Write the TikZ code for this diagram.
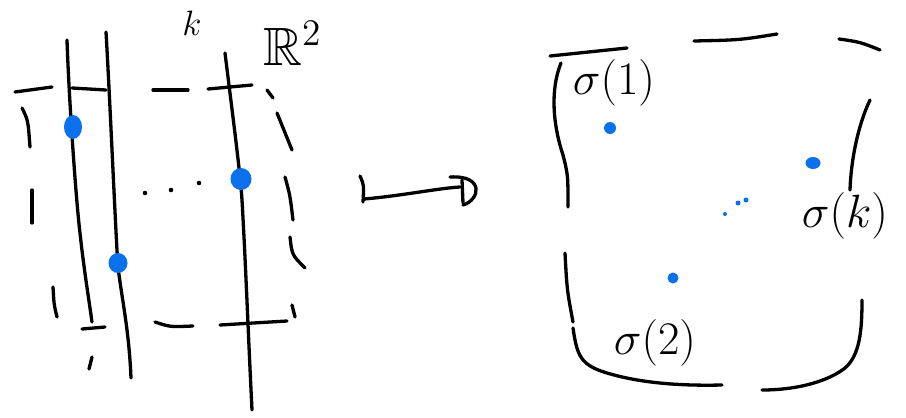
\documentclass[tikz,border=0pt]{standalone}
\usepackage{amssymb}
\usepackage{graphicx}
\definecolor{dotblue}{RGB}{10,112,235}
\newcommand{\bigtxt}[2]{\scalebox{#1}{\huge$#2$}}
\begin{document}
\begin{tikzpicture}[x=1pt,y=-1pt,
  stroke/.style={line width=3.3pt,line cap=round,line join=round,black},
  bluedot/.style={fill=dotblue,draw=none},
  lbl/.style={inner sep=0pt}]
\useasboundingbox (0,0) rectangle (906,418);
% ---------- left panel ----------
% vertical lines
\draw[stroke] (67,40) .. controls (69,100) and (76,200) .. (80,233) .. controls (84,270) and (89,300) .. (92,322);
\draw[stroke] (106,32) .. controls (110,100) and (115,220) .. (118,267) .. controls (122,300) and (129,330) .. (131,378);
\draw[stroke] (225,53) .. controls (232,110) and (240,170) .. (242,200) .. controls (246,270) and (248,330) .. (252,410);
% cross bar
\draw[stroke] (72,88) -- (106,90);
% dashed rectangle: top
\draw[stroke] (15,92) -- (52,87);
\draw[stroke] (153,90) -- (188,90);
\draw[stroke] (208,89) -- (252,85);
% right
\draw[stroke] (267,90) -- (273,98);
\draw[stroke] (277,113) -- (292,150);
\draw[stroke] (285,177) .. controls (290,195) .. (293,220);
\draw[stroke] (290,237) .. controls (292,255) .. (305,268);
\draw[stroke] (292,305) -- (295,317);
% left
\draw[stroke] (22,108) .. controls (28,120) .. (30,147);
\draw[stroke] (32,190) -- (32,223);
\draw[stroke] (53,287) .. controls (54,305) .. (57,317);
\draw[stroke] (92,357) -- (89,369);
% bottom
\draw[stroke] (82,329) -- (105,327);
\draw[stroke] (155,322) .. controls (170,327) .. (193,326);
\draw[stroke] (220,325) -- (287,321);
% dots
\fill (145,193) circle (2.3);
\fill (171,190) circle (2.3);
\fill (199,183) circle (2.3);
% blue points
\fill[bluedot] (73,127) ellipse (9 and 12);
\fill[bluedot] (241,179) ellipse (10.5 and 11);
\fill[bluedot] (118,263) ellipse (9.5 and 10);
% labels
\node[lbl] (k) at (192,23) {\bigtxt{1.7}{k}};
\node[lbl,anchor=base west] (R2) at (263,65) {\bigtxt{2.6}{\mathbb{R}^2}};
% ---------- map arrow ----------
\coordinate (as) at (364,199);
\coordinate (ae) at (460,187);
\draw[stroke] (360,176) .. controls (364,185) .. (363,202);
\draw[stroke] (as) .. controls (400,196) and (440,188) .. (ae);
\draw[stroke] (462,180) -- (463,203);
\draw[stroke] (450,177) .. controls (485,175) and (480,200) .. (463,205);
% ---------- right panel ----------
\draw[stroke] (550,56) -- (627,48);
\draw[stroke] (694,41) .. controls (740,40) .. (777,34);
\draw[stroke] (839,39) .. controls (860,42) .. (880,50);
\draw[stroke] (561,63) .. controls (550,90) and (553,125) .. (563,155) .. controls (568,175) .. (568,207);
\draw[stroke] (565,253) .. controls (567,290) .. (573,322);
\draw[stroke] (573,328) .. controls (577,355) and (580,365) .. (607,373) .. controls (640,383) and (680,386) .. (722,385);
\draw[stroke] (762,390) .. controls (800,390) and (830,380) .. (845,368) .. controls (860,355) and (862,330) .. (862,300);
\draw[stroke] (870,100) .. controls (858,125) and (851,160) .. (850,190);
% labels
\node[lbl] (s1) at (614,83) {\bigtxt{2.25}{\sigma(1)}};
\node[lbl] (s2) at (655,343) {\bigtxt{2.25}{\sigma(2)}};
\node[lbl] (sk) at (845,216) {\bigtxt{2.25}{\sigma(k)}};
% blue points
\fill[bluedot] (610,128) ellipse (6 and 6);
\fill[bluedot] (813,163) ellipse (7.5 and 6);
\fill[bluedot] (673,278) ellipse (5.5 and 5.5);
\fill[bluedot] (725,214) circle (2);
\fill[bluedot] (738,203) circle (2.5);
\fill[bluedot] (746,200) circle (2.5);
\end{tikzpicture}
\end{document}
